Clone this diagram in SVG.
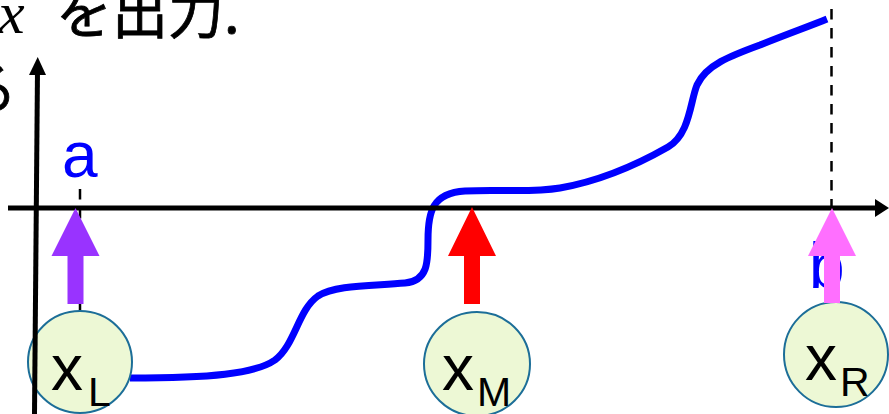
<svg xmlns="http://www.w3.org/2000/svg" width="889" height="414" viewBox="0 0 889 414">
<style>
.jp{font-family:"Noto Sans CJK JP","Noto Sans",sans-serif;font-size:56px;fill:#000;stroke:#000;stroke-width:0.8}
.mi{font-family:"Liberation Serif",serif;font-style:italic;font-size:60px;fill:#000}
.lbl{font-family:"Liberation Sans",Arial,sans-serif;font-size:64px;fill:#0000ff}
.nx{font-family:"Liberation Sans",Arial,sans-serif;font-size:64px;fill:#000}
.ns{font-family:"Liberation Sans",Arial,sans-serif;font-size:41px;fill:#000}
.node{fill:#edf8d5;stroke:#1c6e98;stroke-width:2}
.dash{stroke:#000;stroke-width:2.5;stroke-dasharray:10.5 8.5;fill:none}
.axis{stroke:#000;stroke-width:5;fill:none}
</style>
<rect width="889" height="414" fill="#fff"/>
<text class="mi" x="-2" y="33">x</text>
<text class="jp" x="56" y="33">を出力.</text>
<text class="jp" x="-39" y="109">る</text>
<line class="dash" x1="80" y1="189" x2="80" y2="312"/>
<line class="dash" x1="831.5" y1="9" x2="831.5" y2="208"/>
<path d="M130,378 C210,378 255,374 275,360 C295,345 298,310 318,296 C335,285 370,286 405,283 C428,281 428,262 428,240 C428,212 432,193 465,191 C500,189 530,193 560,188 C600,181 640,163 668,147 C690,134 690,102 697,85 C706,65 730,56 760,45 C790,33 810,26 827,19" fill="none" stroke="#0000ff" stroke-width="7"/>
<text class="lbl" x="62" y="177">a</text>
<text class="lbl" x="809" y="288">b</text>
<g id="node-xL"><ellipse class="node" cx="80" cy="362" rx="52" ry="51"/><text class="nx" x="51" y="390">x</text><text class="ns" x="88" y="406">L</text></g>
<g id="node-xM"><ellipse class="node" cx="477" cy="364" rx="53" ry="52"/><text class="nx" x="442" y="390">x</text><text class="ns" x="477" y="406">M</text></g>
<g id="node-xR"><ellipse class="node" cx="836" cy="354.5" rx="52" ry="52.5"/><text class="nx" x="805" y="380">x</text><text class="ns" x="840" y="396">R</text></g>
<g id="axes">
<line class="axis" x1="8" y1="208" x2="878" y2="208"/>
<polygon points="889,208 875,199 875,217" fill="#000"/>
<line class="axis" x1="37.5" y1="70" x2="34.5" y2="414"/>
<polygon points="37.7,57 29,75 46,75" fill="#000"/>
</g>
<g id="connectors">
<polygon points="75.5,208 99.5,256 83.5,256 83.5,304 67.5,304 67.5,256 51.5,256" fill="#9933ff"/>
<polygon points="472,207 496,256 480,256 480,304 464,304 464,256 448,256" fill="#ff0000"/>
<polygon points="832,208 856,256 840,256 840,303 824,303 824,256 808,256" fill="#ff6fff"/>
</g>
</svg>
